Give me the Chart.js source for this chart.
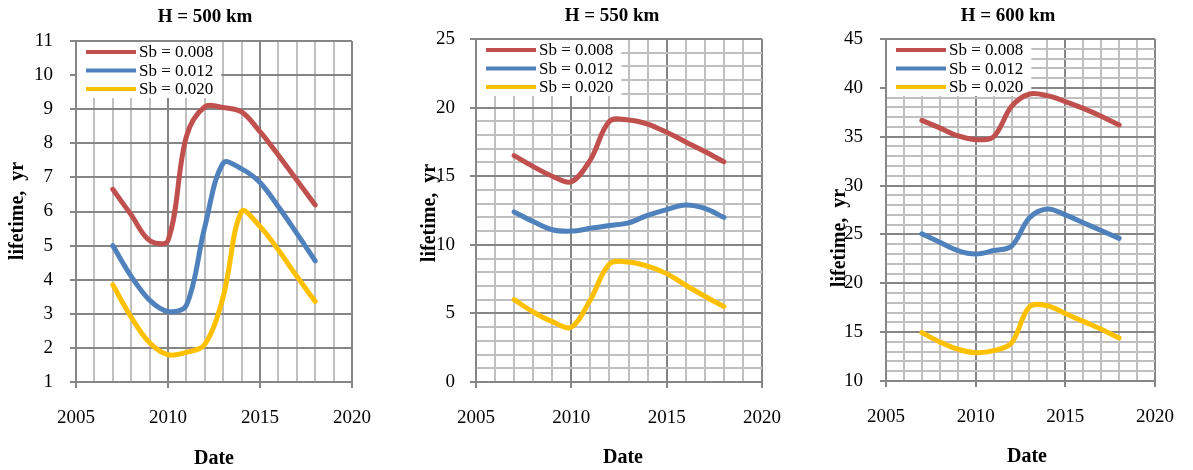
<!DOCTYPE html>
<html>
<head>
<meta charset="utf-8">
<script src="https://cdn.jsdelivr.net/npm/chart.js@4"></script>
<style>
  html, body { margin: 0; padding: 0; background: #ffffff; }
  body { width: 1193px; height: 470px; position: relative; overflow: hidden; }
  canvas { position: absolute; top: 0; }
</style>
</head>
<body>
<canvas id="c1" width="400" height="470" style="left:0px"></canvas>
<canvas id="c2" width="400" height="470" style="left:400px"></canvas>
<canvas id="c3" width="393" height="470" style="left:800px"></canvas>
<script>
// ---------- data ----------
const years = [2007, 2008, 2009, 2010, 2011, 2012, 2013, 2014, 2015, 2016, 2017, 2018];
const seriesLabels = ['Sb = 0.008', 'Sb = 0.012', 'Sb = 0.020'];
const panelTitles = ['H = 500 km', 'H = 550 km', 'H = 600 km'];
const xAxisTitle = 'Date';
const yAxisTitle = 'lifetime,  yr';

const h500_sb008 = [6.65, 5.9, 5.15, 5.15, 8.2, 9.07, 9.05, 8.92, 8.34, 7.65, 6.92, 6.19];
const h500_sb012 = [5.0, 4.1, 3.4, 3.07, 3.25, 5.55, 7.42, 7.25, 6.85, 6.14, 5.36, 4.55];
const h500_sb020 = [3.85, 2.9, 2.15, 1.8, 1.87, 2.1, 3.5, 6.0, 5.56, 4.87, 4.1, 3.36];

const h550_sb008 = [16.5, 15.7, 15.0, 14.6, 16.2, 19.0, 19.1, 18.8, 18.2, 17.5, 16.8, 16.05];
const h550_sb012 = [12.4, 11.7, 11.1, 11.0, 11.2, 11.4, 11.6, 12.15, 12.57, 12.9, 12.65, 12.0];
const h550_sb020 = [6.0, 5.1, 4.4, 4.0, 6.0, 8.6, 8.75, 8.45, 7.9, 7.05, 6.25, 5.5];

const h600_sb008 = [36.67, 35.9, 35.1, 34.7, 35.0, 38.1, 39.37, 39.2, 38.6, 37.9, 37.1, 36.2];
const h600_sb012 = [25.06, 24.2, 23.35, 23.0, 23.35, 23.8, 26.7, 27.6, 27.0, 26.2, 25.4, 24.6];
const h600_sb020 = [14.95, 14.0, 13.25, 12.9, 13.1, 13.9, 17.6, 17.7, 16.9, 16.1, 15.3, 14.4];

const xMin = 2005, xMax = 2020, xLabelStep = 5;
const yRanges = [ {min: 1, max: 11, major: 1}, {min: 0, max: 25, major: 5}, {min: 10, max: 45, major: 5} ];

// ---------- styling ----------
const colors = ['#C0504D', '#4F81BD', '#FFC000'];
const FONT = "'Liberation Serif', 'Times New Roman', serif";
const MAJOR = '#868686';
const MINOR = '#c0c0c0';

// layout per panel (canvas px)
const layouts = [
  { W: 400, L: 76, R: 352, T: 41, B: 382, yPad: 17, title: [205, 17], ytitle: [18, 211], xtitle: [214, 459] },
  { W: 400, L: 76, R: 371, T: 39, B: 382, yPad: 15, title: [212, 16], ytitle: [30, 213], xtitle: [223, 458] },
  { W: 393, L: 86, R: 368, T: 39, B: 381, yPad: 17, title: [208, 16], ytitle: [40, 238], xtitle: [227, 457] }
];

const decorPlugin = {
  id: 'decor',
  beforeDatasetsDraw(chart, args, opts) {
    const ctx = chart.ctx, ca = chart.chartArea;
    ctx.save();
    ctx.font = '17px ' + FONT;
    let maxW = 0;
    chart.data.datasets.forEach(ds => { maxW = Math.max(maxW, ctx.measureText(ds.label).width); });
    const boxW = 63 + maxW + 8, boxH = 57;
    ctx.fillStyle = '#ffffff';
    ctx.fillRect(ca.left + 1, ca.top + 1, boxW - 1, boxH - 1);
    chart.data.datasets.forEach((ds, i) => {
      const y = ca.top + 11 + i * 18.5;
      ctx.strokeStyle = ds.borderColor;
      ctx.lineWidth = 4;
      ctx.beginPath();
      ctx.moveTo(ca.left + 10, y);
      ctx.lineTo(ca.left + 60, y);
      ctx.stroke();
      ctx.fillStyle = '#000000';
      ctx.textAlign = 'left';
      ctx.textBaseline = 'middle';
      ctx.fillText(ds.label, ca.left + 63, y + 1);
    });
    ctx.restore();
  },
  afterDraw(chart, args, opts) {
    const ctx = chart.ctx;
    ctx.save();
    ctx.fillStyle = '#000000';
    ctx.textAlign = 'center';
    ctx.textBaseline = 'middle';
    ctx.font = 'bold 19px ' + FONT;
    ctx.fillText(opts.title, opts.titlePos[0], opts.titlePos[1]);
    ctx.font = 'bold 20px ' + FONT;
    ctx.fillText(opts.xtitle, opts.xtitlePos[0], opts.xtitlePos[1]);
    ctx.translate(opts.ytitlePos[0], opts.ytitlePos[1]);
    ctx.rotate(-Math.PI / 2);
    ctx.fillText(opts.ytitle, 0, 0);
    ctx.restore();
  }
};

function makeChart(id, idx, series) {
  const lay = layouts[idx], yr = yRanges[idx];
  return new Chart(document.getElementById(id), {
    type: 'line',
    data: {
      labels: years,
      datasets: series.map((vals, i) => ({
        label: seriesLabels[i],
        data: years.map((x, k) => ({ x: x, y: vals[k] })),
        borderColor: colors[i],
        backgroundColor: colors[i],
        borderWidth: 5,
        borderCapStyle: 'round',
        borderJoinStyle: 'round',
        pointRadius: 0,
        tension: 0.35,
        fill: false
      }))
    },
    options: {
      responsive: false,
      animation: false,
      events: [],
      layout: { padding: { left: 0, right: lay.W - lay.R, top: lay.T, bottom: 0 } },
      plugins: {
        legend: { display: false },
        title: { display: false },
        tooltip: { enabled: false },
        decor: {
          title: panelTitles[idx], titlePos: lay.title,
          xtitle: xAxisTitle, xtitlePos: lay.xtitle,
          ytitle: yAxisTitle, ytitlePos: lay.ytitle
        }
      },
      scales: {
        x: {
          type: 'linear', min: xMin, max: xMax,
          afterFit: s => { s.height = 470 - lay.B; },
          border: { color: MAJOR, width: 2 },
          grid: {
            color: c => (c.tick && c.tick.value % xLabelStep === 0) ? MAJOR : MINOR,
            tickColor: c => (c.tick && c.tick.value % xLabelStep === 0) ? MAJOR : 'rgba(0,0,0,0)',
            lineWidth: 2, tickWidth: 2, tickLength: 6
          },
          ticks: {
            stepSize: 1, autoSkip: false, maxRotation: 0, padding: 19,
            color: '#000000', font: { family: FONT, size: 19 },
            callback: v => (v % xLabelStep === 0) ? String(v) : ''
          }
        },
        y: {
          min: yr.min, max: yr.max,
          afterFit: s => { s.width = lay.L; },
          border: { color: MAJOR, width: 2 },
          grid: {
            color: c => (c.tick && c.tick.value % yr.major === 0) ? MAJOR : MINOR,
            tickColor: c => (c.tick && c.tick.value % yr.major === 0) ? MAJOR : 'rgba(0,0,0,0)',
            lineWidth: 2, tickWidth: 2, tickLength: 6
          },
          ticks: {
            stepSize: 1, autoSkip: false, padding: lay.yPad,
            color: '#000000', font: { family: FONT, size: 19 },
            callback: v => (v % yr.major === 0) ? String(v) : ''
          }
        }
      }
    },
    plugins: [decorPlugin]
  });
}

makeChart('c1', 0, [h500_sb008, h500_sb012, h500_sb020]);
makeChart('c2', 1, [h550_sb008, h550_sb012, h550_sb020]);
makeChart('c3', 2, [h600_sb008, h600_sb012, h600_sb020]);
</script>
</body>
</html>
